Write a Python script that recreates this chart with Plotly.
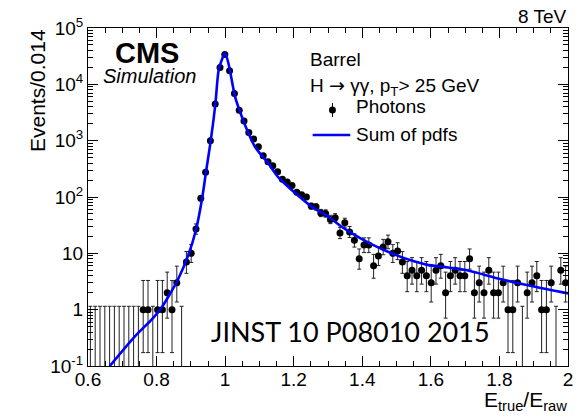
import math
import plotly.graph_objects as go

# ---- data -------------------------------------------------------------
BIN_LO = 0.6
BIN_W = 0.014

# photon counts per 0.014-wide bin of E_true/E_raw, from 0.6 to 2.0
counts = [
    0, 0, 0, 0, 0, 0, 0, 0, 0, 0,
    0, 1, 1, 0, 1, 1, 2, 1, 3, 0,
    7, 10, 27, 95, 274, 1000, 4470, 20000, 34000, 17400,
    6900, 3460, 2230, 1390, 1070, 780, 540, 423, 359, 280,
    206, 185, 160, 121, 110, 100, 69, 67, 52, 51,
    40, 43, 23, 35, 24, 17, 8, 14, 14, 6,
    9, 13, 16, 10, 11, 7, 4, 5, 4, 5,
    4, 3, 5, 6, 2, 4, 5, 4, 4, 8,
    2, 3, 2, 5, 2, 2, 3, 1, 1, 3,
    0, 2, 3, 4, 1, 1, 3, 0, 5, 3,
]

# fitted model (sum of pdfs)
curve_x = [0.6635, 0.7357, 0.784, 0.8127, 0.8367, 0.861, 0.8944, 0.9155,
           0.9328, 0.944, 0.958, 0.9715, 0.981, 0.991, 1.0, 1.01, 1.029,
           1.0437, 1.058, 1.087, 1.125, 1.154, 1.1735, 1.2025, 1.25, 1.30,
           1.347, 1.395, 1.443, 1.491, 1.539, 1.587, 1.65, 1.7055, 1.802,
           1.897, 2.0]
curve_y = [0.1, 0.33, 0.65, 1.05, 1.8, 3.3, 10, 27,
           94, 274, 1000, 4470, 17800, 28000, 35500, 23000, 6000,
           3240, 1890, 780, 400, 228, 174, 120, 69, 45,
           27.7, 18.4, 13, 9.7, 7.6, 6.3, 5.6, 5.0, 3.5,
           2.6, 1.94]

x_ticks = [0.6, 0.8, 1.0, 1.2, 1.4, 1.6, 1.8, 2.0]
x_ticktext = ["0.6", "0.8", "1", "1.2", "1.4", "1.6", "1.8", "2"]
y_ticks = [0.1, 1, 10, 100, 1e3, 1e4, 1e5]
y_ticktext = ["10<sup>-1</sup>", "1", "10", "10<sup>2</sup>",
              "10<sup>3</sup>", "10<sup>4</sup>", "10<sup>5</sup>"]

# ---- Poisson (Garwood) 68% intervals ------------------------------------
ALPHA = (1 - 0.682689) / 2


def pois_cdf(k, mu):
    term = math.exp(-mu)
    s = term
    for i in range(1, k + 1):
        term *= mu / i
        s += term
    return s


def bisect(f, lo, hi):
    for _ in range(80):
        mid = 0.5 * (lo + hi)
        if f(lo) * f(mid) <= 0:
            hi = mid
        else:
            lo = mid
    return 0.5 * (lo + hi)


def interval(n):
    if n > 60:
        return n - math.sqrt(n), n + math.sqrt(n)
    hi_bound = n + 10 * math.sqrt(n) + 10
    up = bisect(lambda m: pois_cdf(n, m) - ALPHA, 0.0, hi_bound)
    lo = bisect(lambda m: 1 - pois_cdf(n - 1, m) - ALPHA, 1e-9, hi_bound)
    return lo, up


centers = [BIN_LO + BIN_W * (i + 0.5) for i in range(len(counts))]

px_, py_, em_, ep_ = [], [], [], []
zx, zy, zm = [], [], []
zero_up = -math.log(1 - 0.682689)
for xc, n in zip(centers, counts):
    if n == 0:
        zx.append(xc)
        zy.append(zero_up)
        zm.append(zero_up * 0.9995)
    else:
        lo, up = interval(n)
        px_.append(xc)
        py_.append(n)
        em_.append(n - lo)
        ep_.append(up - n)

FONT = "Liberation Sans"

fig = go.Figure()

# empty bins: upper error only
fig.add_trace(go.Scatter(
    x=zx, y=zy, mode="markers",
    marker=dict(size=1, color="rgba(0,0,0,0)"),
    error_y=dict(type="data", symmetric=False, array=[0] * len(zx),
                 arrayminus=zm, color="#222", thickness=1, width=2),
    showlegend=False, hoverinfo="skip",
))

# photons
fig.add_trace(go.Scatter(
    x=px_, y=py_, mode="markers",
    marker=dict(size=7, color="black"),
    error_y=dict(type="data", symmetric=False, array=ep_, arrayminus=em_,
                 color="#222", thickness=1, width=2),
    showlegend=False,
))

# sum of pdfs
fig.add_trace(go.Scatter(
    x=curve_x, y=curve_y, mode="lines",
    line=dict(color="#0000ff", width=2.6, shape="spline", smoothing=0.8),
    showlegend=False,
))

# ---- layout ---------------------------------------------------------------
W, H = 578, 419
L, R, T, B = 88, 5, 28, 53
PW, PH = W - L - R, H - T - B


def fx(p):
    return (p - L) / PW


def fy(p):
    return (H - B - p) / PH


minor_y = [k * 10 ** e for e in range(-1, 5) for k in range(2, 10)]

fig.update_xaxes(
    range=[0.6, 2.0], showgrid=False, zeroline=False,
    showline=True, linecolor="black", linewidth=1, mirror="allticks",
    ticks="inside", ticklen=10, tickwidth=1, tickcolor="black",
    tickmode="array", tickvals=x_ticks, ticktext=x_ticktext,
    ticklabeloverflow="allow", ticklabelstandoff=-4,
    tickfont=dict(family=FONT, size=19, color="black"),
    minor=dict(ticks="inside", ticklen=5, tickcolor="black",
               tick0=0.6, dtick=0.05, showgrid=False),
)
fig.update_yaxes(
    type="log", range=[-1, 5], showgrid=False, zeroline=False,
    showline=True, linecolor="black", linewidth=1, mirror="allticks",
    ticks="inside", ticklen=10, tickwidth=1, tickcolor="black",
    tickmode="array", tickvals=y_ticks, ticktext=y_ticktext,
    ticklabeloverflow="allow",
    tickfont=dict(family=FONT, size=19, color="black"),
    minor=dict(ticks="inside", ticklen=5, tickcolor="black",
               tickmode="array", tickvals=minor_y, showgrid=False),
)


def txt(text, x, y, size=19, xanchor="left", yanchor="middle", **kw):
    fig.add_annotation(
        text=text, x=fx(x), y=fy(y), xref="paper", yref="paper",
        xanchor=xanchor, yanchor=yanchor, showarrow=False,
        font=dict(family=kw.pop("family", FONT), size=size,
                  color="black"), **kw)


ARROW = '<span style="font-family:DejaVu Sans">\u2192</span>'

txt("<b>CMS</b>", 148, 53, size=29, xanchor="center")
txt("<i>Simulation</i>", 150, 76, size=20, xanchor="center")
txt("8 TeV", 574, 16, size=19, xanchor="right")
txt("Barrel", 310, 59, size=19)
txt("H " + ARROW + " \u03b3\u03b3, p<sub>T</sub>&gt; 25 GeV", 310, 86,
    size=19)
txt("Photons", 357, 107, size=19)
txt("Sum of pdfs", 357, 134, size=19)
txt("JINST 10 P08010 2015", 353, 331, size=27, xanchor="center",
    family="Lato")
txt("E<sub>true</sub>/E<sub>raw</sub>", 574, 386, size=21,
    xanchor="right", yanchor="top")
fig.add_annotation(
    text="Events/0.014", x=fx(37), y=fy(27), xref="paper", yref="paper",
    xanchor="center", yanchor="top", textangle=-90, showarrow=False,
    font=dict(family=FONT, size=21, color="black"))

# legend glyphs
fig.add_shape(type="line", xref="paper", yref="paper",
              x0=fx(335), x1=fx(335), y0=fy(103), y1=fy(117),
              line=dict(color="black", width=1))
fig.add_shape(type="circle", xref="paper", yref="paper",
              x0=fx(331.5), x1=fx(338.5), y0=fy(106.5), y1=fy(113.5),
              fillcolor="black", line=dict(color="black", width=0))
fig.add_shape(type="line", xref="paper", yref="paper",
              x0=fx(315), x1=fx(353), y0=fy(135), y1=fy(135),
              line=dict(color="#0000ff", width=2.6))

fig.update_layout(
    width=W, height=H, margin=dict(l=L, r=R, t=T, b=B),
    paper_bgcolor="white", plot_bgcolor="white",
)

fig.write_html("out.html")
